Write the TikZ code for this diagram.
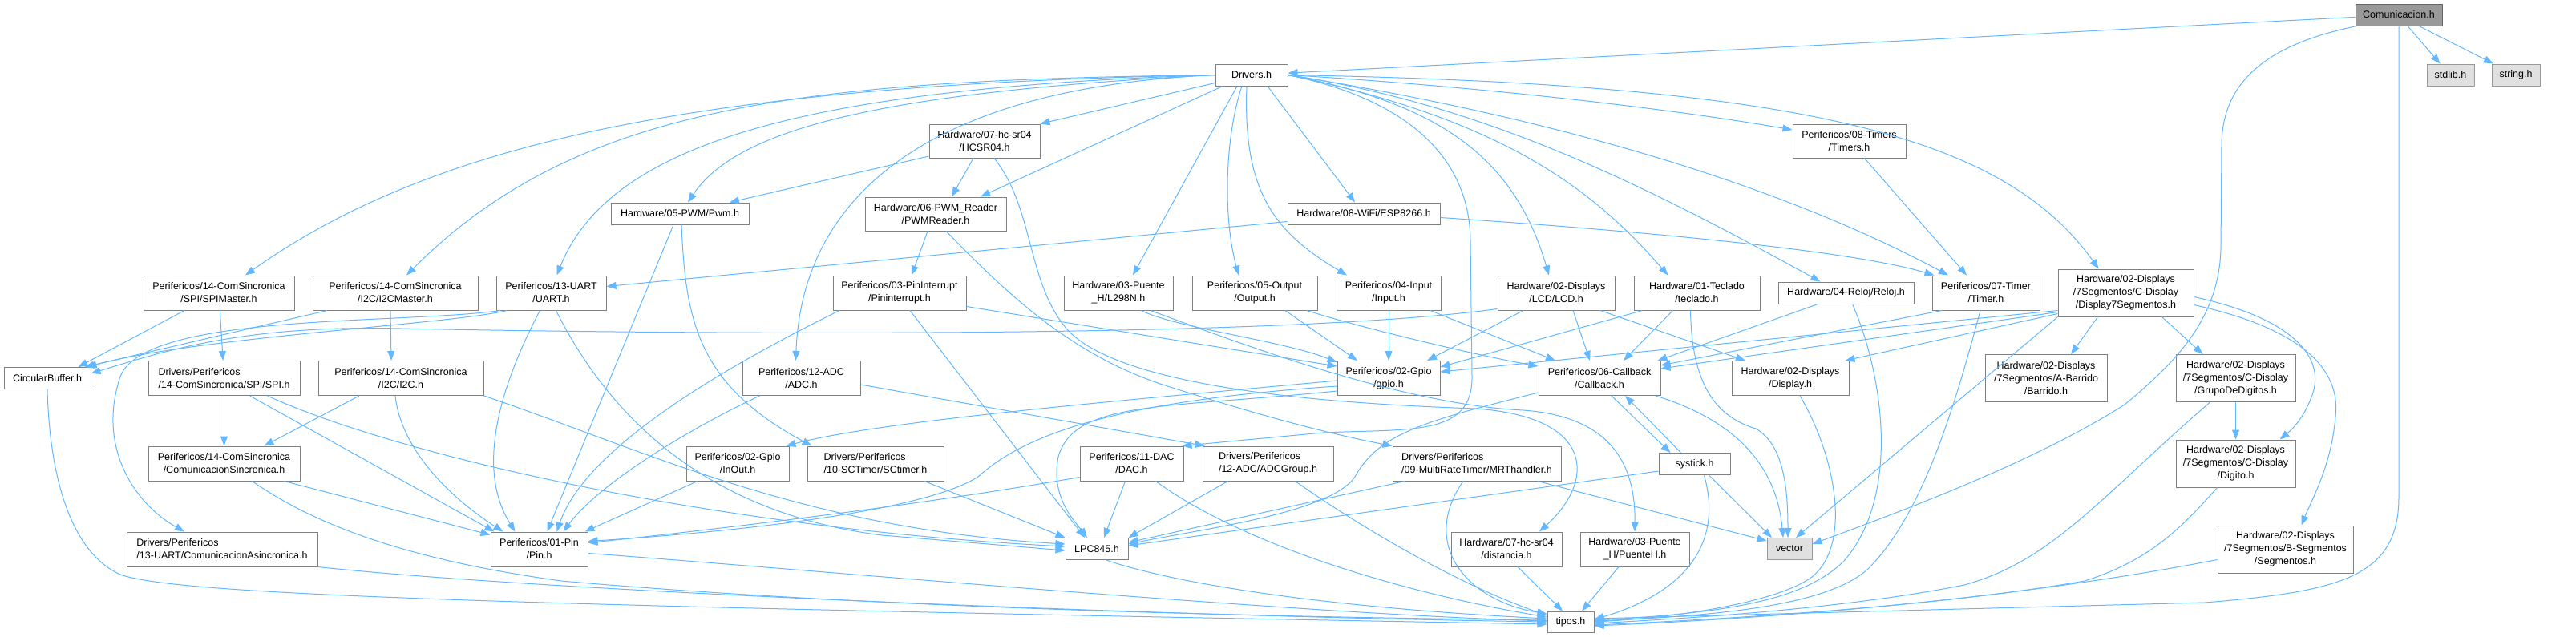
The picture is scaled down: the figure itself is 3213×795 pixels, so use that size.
\documentclass[tikz,border=0pt]{standalone}
\usepackage{fontspec}
\setmainfont{Liberation Sans}
\usetikzlibrary{arrows.meta}
\definecolor{edgec}{HTML}{63B8FF}
\definecolor{bordc}{HTML}{808080}
\definecolor{rootf}{HTML}{999999}
\definecolor{rootb}{HTML}{666666}
\definecolor{extf}{HTML}{E0E0E0}
\definecolor{extb}{HTML}{999999}
\tikzset{
  sz/.style 2 args={minimum width=#1pt,minimum height=#2pt},
  nd/.style={draw=bordc,fill=white,line width=1pt,inner sep=0pt,align=center,
    font=\fontsize{12.5}{16}\selectfont,text=black},
  ext/.style={nd,fill=extf,draw=extb},
  e/.style={draw=edgec,line width=1pt,-{Triangle[length=12pt,width=9pt]}}
}
\begin{document}
\begin{tikzpicture}[x=1pt,y=-1pt]
\fill[white] (0,0) rectangle (3213,795);
\useasboundingbox (0,0) rectangle (3213,795);
% nodes
\node[nd,sz={108}{27},fill=rootf,draw=rootb] (root) at (2992,18.5) {Comunicacion.h};
\node[ext,sz={59}{27}] (stdlib) at (3056.5,93.5) {stdlib.h};
\node[ext,sz={60}{27}] (string) at (3138,93.5) {string.h};
\node[nd,sz={90}{27}] (drivers) at (1561,93.5) {Drivers.h};
\node[nd,sz={138}{42}] (hcsr04) at (1228,176) {Hardware/07-hc-sr04\\/HCSR04.h};
\node[nd,sz={141}{42}] (timers) at (2306.5,176) {Perifericos/08-Timers\\/Timers.h};
\node[nd,sz={172}{27}] (pwm) at (848,266.5) {Hardware/05-PWM/Pwm.h};
\node[nd,sz={176}{42}] (pwmreader) at (1167,267) {Hardware/06-PWM\_Reader\\/PWMReader.h};
\node[nd,sz={190}{27}] (esp) at (1701,266.5) {Hardware/08-WiFi/ESP8266.h};
\node[nd,sz={188}{43}] (spimaster) at (273,365.5) {Perifericos/14-ComSincronica\\/SPI/SPIMaster.h};
\node[nd,sz={206}{43}] (i2cmaster) at (493,365.5) {Perifericos/14-ComSincronica\\/I2C/I2CMaster.h};
\node[nd,sz={137}{43}] (uart) at (687.5,365.5) {Perifericos/13-UART\\/UART.h};
\node[nd,sz={166}{43}] (pinint) at (1122,365.5) {Perifericos/03-PinInterrupt\\/Pininterrupt.h};
\node[nd,sz={136}{43}] (l298n) at (1395,365.5) {Hardware/03-Puente\\\_H/L298N.h};
\node[nd,sz={156}{43}] (output) at (1565,365.5) {Perifericos/05-Output\\/Output.h};
\node[nd,sz={130}{43}] (input) at (1732,365.5) {Perifericos/04-Input\\/Input.h};
\node[nd,sz={146}{43}] (lcd) at (1941,365.5) {Hardware/02-Displays\\/LCD/LCD.h};
\node[nd,sz={157}{43}] (teclado) at (2116.5,365.5) {Hardware/01-Teclado\\/teclado.h};
\node[nd,sz={169}{27}] (reloj) at (2302.5,365.5) {Hardware/04-Reloj/Reloj.h};
\node[nd,sz={134}{43}] (timer) at (2477,365.5) {Perifericos/07-Timer\\/Timer.h};
\node[nd,sz={169}{59}] (disp7) at (2651.5,365.5) {Hardware/02-Displays\\/7Segmentos/C-Display\\/Display7Segmentos.h};
\node[nd,sz={108}{27}] (circ) at (59,472) {CircularBuffer.h};
\node[nd,sz={189}{43},align=left] (spi) at (279.5,472) {Drivers/Perifericos\\/14-ComSincronica/SPI/SPI.h};
\node[nd,sz={206}{43}] (i2c) at (500,472) {Perifericos/14-ComSincronica\\/I2C/I2C.h};
\node[nd,sz={147}{43}] (adc) at (999.5,472) {Perifericos/12-ADC\\/ADC.h};
\node[nd,sz={128}{43}] (gpio) at (1732,472) {Perifericos/02-Gpio\\/gpio.h};
\node[nd,sz={152}{43}] (callback) at (1995,472) {Perifericos/06-Callback\\/Callback.h};
\node[nd,sz={146}{43}] (display) at (2233,472) {Hardware/02-Displays\\/Display.h};
\node[nd,sz={152}{59}] (barrido) at (2552,472) {Hardware/02-Displays\\/7Segmentos/A-Barrido\\/Barrido.h};
\node[nd,sz={149}{59}] (grupo) at (2788.5,472) {Hardware/02-Displays\\/7Segmentos/C-Display\\/GrupoDeDigitos.h};
\node[nd,sz={189}{43}] (comsinc) at (279.5,578.5) {Perifericos/14-ComSincronica\\/ComunicacionSincronica.h};
\node[nd,sz={128}{43}] (inout) at (920,578.5) {Perifericos/02-Gpio\\/InOut.h};
\node[nd,sz={170}{43},align=left] (sctimer) at (1092,578.5) {Drivers/Perifericos\\/10-SCTimer/SCtimer.h};
\node[nd,sz={129}{43}] (dac) at (1411.5,578.5) {Perifericos/11-DAC\\/DAC.h};
\node[nd,sz={163}{43},align=left] (adcgroup) at (1581.5,578.5) {Drivers/Perifericos\\/12-ADC/ADCGroup.h};
\node[nd,sz={210}{43},align=left] (mrt) at (1842,578.5) {Drivers/Perifericos\\/09-MultiRateTimer/MRThandler.h};
\node[nd,sz={89}{27}] (systick) at (2113.5,579) {systick.h};
\node[nd,sz={149}{59}] (digito) at (2788.5,578.5) {Hardware/02-Displays\\/7Segmentos/C-Display\\/Digito.h};
\node[nd,sz={238}{43},align=left] (comasinc) at (277,685.5) {Drivers/Perifericos\\/13-UART/ComunicacionAsincronica.h};
\node[nd,sz={121}{43}] (pin) at (672.5,685.5) {Perifericos/01-Pin\\/Pin.h};
\node[nd,sz={78}{27}] (lpc) at (1368,685) {LPC845.h};
\node[nd,sz={138}{43}] (distancia) at (1879,685.5) {Hardware/07-hc-sr04\\/distancia.h};
\node[nd,sz={136}{43}] (puenteh) at (2039,685.5) {Hardware/03-Puente\\\_H/PuenteH.h};
\node[ext,sz={56}{27}] (vector) at (2232,685) {vector};
\node[nd,sz={169}{59}] (segmentos) at (2850.5,685.5) {Hardware/02-Displays\\/7Segmentos/B-Segmentos\\/Segmentos.h};
\node[nd,sz={58}{26}] (tipos) at (1959,776) {tipos.h};

% root edges
\draw[e] (root) -- (drivers);
\draw[e] ([xshift=11pt]root.south) -- ([xshift=-13pt]stdlib.north);
\draw[e] ([xshift=25pt]root.south) -- ([xshift=-28pt]string.north);
\draw[e] ([xshift=2pt]root.south west) .. controls (2830,55) and (2772,100) .. (2771,180) -- (2770,310) .. controls (2768,400) and (2710,455) .. (2650,505) .. controls (2540,575) and (2380,635) .. ([yshift=6pt]vector.east);
\draw[e] (root.south) -- (2992,620) .. controls (2992,720) and (2920,738) .. (2750,752) -- ([yshift=4pt]tipos.east);

% drivers edges
\draw[e] (drivers.west) .. controls (900,105) and (550,170) .. ([xshift=33pt]spimaster.north);
\draw[e] (drivers.west) .. controls (1000,100) and (720,130) .. ([xshift=14pt]i2cmaster.north);
\draw[e] (drivers.west) .. controls (1000,110) and (760,180) .. ([xshift=7pt]uart.north);
\draw[e] (drivers.west) .. controls (1100,115) and (920,160) .. ([xshift=10pt]pwm.north);
\draw[e] (drivers.west) .. controls (1150,110) and (1000,250) .. ([xshift=-7pt]adc.north);
\draw[e] ([yshift=-10pt]drivers.west) -- (hcsr04.north east);
\draw[e] ([xshift=-36pt]drivers.south) -- ([xshift=56pt]pwmreader.north);
\draw[e] ([xshift=-18pt]drivers.south) -- ([xshift=18pt]l298n.north);
\draw[e] ([xshift=-12pt]drivers.south) .. controls (1528,170) and (1525,270) .. ([xshift=-20pt]output.north);
\draw[e] ([xshift=-6pt]drivers.south) .. controls (1550,240) and (1590,290) .. ([xshift=-52pt]input.north);
\draw[e] ([xshift=20pt]drivers.south) -- ([xshift=-11pt]esp.north);
\draw[e] (drivers.east) .. controls (1760,125) and (1833,200) .. (1834,300) -- (1836,470) .. controls (1837,545) and (1760,535) .. (1650,540) -- ([xshift=-2pt]dac.north east);
\draw[e] (drivers.east) .. controls (1800,130) and (1890,200) .. ([xshift=-9pt]lcd.north);
\draw[e] (drivers.east) .. controls (1880,150) and (1990,240) .. ([xshift=-36pt]teclado.north);
\draw[e] (drivers.east) .. controls (1850,130) and (2050,230) .. ([xshift=-32pt]reloj.north);
\draw[e] (drivers.east) .. controls (1900,140) and (2200,220) .. ([xshift=-47pt]timer.north);
\draw[e] (drivers.east) .. controls (1800,105) and (2050,130) .. ([yshift=14pt]timers.west);
\draw[e] (drivers.east) .. controls (2250,105) and (2500,170) .. ([xshift=-34pt]disp7.north);

% second level
\draw[e] ([xshift=-14pt]hcsr04.south) -- ([xshift=20pt]pwmreader.north);
\draw[e] ([yshift=-19pt]hcsr04.west) -- ([xshift=62pt]pwm.north);
\draw[e] ([xshift=12pt]hcsr04.south) .. controls (1290,260) and (1280,350) .. (1330,410) .. controls (1400,490) and (1700,505) .. (1840,510) .. controls (1990,520) and (1990,600) .. ([xshift=41pt]distancia.north);
\draw[e] ([xshift=19pt]timers.south) -- ([xshift=-24pt]timer.north);
\draw[e] ([yshift=-5pt]esp.east) .. controls (2000,285) and (2300,310) .. ([xshift=3pt]timer.north west);
\draw[e] ([yshift=-10pt]esp.west) -- ([yshift=8pt]uart.east);
\draw[e] ([xshift=-10pt]pwmreader.south) -- ([xshift=15pt]pinint.north);
\draw[e] ([xshift=13pt]pwmreader.south) .. controls (1250,360) and (1330,440) .. (1450,480) .. controls (1560,515) and (1650,540) .. (mrt.north west);
\draw[e] ([xshift=-8pt]pwm.south) -- ([xshift=10pt]pin.north);
\draw[e] ([xshift=2pt]pwm.south) .. controls (855,400) and (870,480) .. ([xshift=6pt]sctimer.north west);

% uart / spi / i2c
\draw[e] ([xshift=-14pt]uart.south) .. controls (630,470) and (590,580) .. ([xshift=-30pt]pin.north);
\draw[e] ([xshift=6pt]uart.south) .. controls (760,520) and (880,640) .. (1100,668) -- ([yshift=-2pt]lpc.west);
\draw[e] ([xshift=14pt]uart.south west) .. controls (560,405) and (250,420) .. ([xshift=-5pt]circ.north east);
\draw[e] ([xshift=6pt]uart.south west) .. controls (500,405) and (180,390) .. (150,470) .. controls (120,560) and (170,630) .. ([xshift=-47pt]comasinc.north);
\draw[e] ([xshift=-43pt]spimaster.south) -- ([xshift=-16pt]circ.north east);
\draw[e] (spimaster) -- (spi);
\draw[e] ([xshift=-85pt]i2cmaster.south) -- ([xshift=-8pt]circ.north east);
\draw[e] ([xshift=-6pt]i2cmaster.south) -- ([xshift=-12pt]i2c.north);
\draw[e] ([yshift=2pt]lcd.south west) .. controls (1600,422) and (900,418) .. (500,410) .. controls (300,405) and (200,440) .. ([yshift=6pt]circ.east);
\draw[e] (spi) -- (comsinc);
\draw[e] ([xshift=32pt]spi.south) -- ([xshift=5pt]pin.north west);
\draw[e] ([xshift=54pt]spi.south) .. controls (500,570) and (900,660) .. ([yshift=3pt]lpc.west);
\draw[e] ([xshift=-52pt]i2c.south) -- ([xshift=50pt]comsinc.north);
\draw[e] ([xshift=-7pt]i2c.south) .. controls (500,560) and (560,620) .. ([xshift=-45pt]pin.north);
\draw[e] (i2c.south east) .. controls (800,560) and (1000,660) .. ([yshift=6pt]lpc.west);
\draw[e] ([xshift=75pt]comsinc.south) -- ([yshift=-4pt]pin.north west);
\draw[e] ([xshift=35pt]comsinc.south) .. controls (400,660) and (520,700) .. (700,725) .. controls (1100,760) and (1600,770) .. ([yshift=2pt]tipos.west);
\draw[e] (comasinc.south east) .. controls (700,740) and (1500,770) .. (tipos.west);
\draw[e] (circ.south) .. controls (62,600) and (90,690) .. (150,717) .. controls (220,742) and (600,755) .. ([yshift=-3pt]tipos.west);
\draw[e] ([yshift=-5pt]pin.east) .. controls (1000,710) and (1600,765) .. ([yshift=1pt]tipos.west);
\draw[e] ([xshift=12pt]lpc.south) .. controls (1440,720) and (1600,755) .. ([yshift=4pt]tipos.west);

% middle
\draw[e] ([xshift=61pt]sctimer.south) -- (lpc.north west);
\draw[e] ([yshift=-8pt]adc.east) -- ([xshift=3pt]adcgroup.north west);
\draw[e] ([xshift=-52pt]adc.south) .. controls (870,530) and (750,600) .. ([xshift=30pt]pin.north);
\draw[e] ([xshift=-50pt]inout.south) -- ([xshift=57pt]pin.north);
\draw[e] ([xshift=-75pt]pinint.south) .. controls (900,460) and (730,560) .. ([xshift=22pt]pin.north);
\draw[e] ([xshift=13pt]pinint.south) -- ([xshift=-15pt]lpc.north);
\draw[e] ([yshift=-17pt]pinint.east) -- ([yshift=15pt]gpio.west);
\draw[e] ([xshift=-8pt]dac.south) -- ([xshift=9pt]lpc.north);
\draw[e] ([yshift=-17pt]dac.west) .. controls (1150,630) and (900,660) .. ([yshift=8pt]pin.east);
\draw[e] ([xshift=30pt]dac.south) .. controls (1550,680) and (1750,740) .. ([yshift=6pt]tipos.west);
\draw[e] ([xshift=-50pt]adcgroup.south) -- (lpc.north east);
\draw[e] ([xshift=34pt]adcgroup.south) .. controls (1700,660) and (1820,730) .. ([yshift=8pt]tipos.west);
\draw[e] ([xshift=-90pt]mrt.south) -- ([yshift=8pt]lpc.east);
\draw[e] ([xshift=-17pt]mrt.south) .. controls (1770,680) and (1830,750) .. ([yshift=10pt]tipos.west);
\draw[e] ([xshift=76pt]mrt.south) -- ([yshift=10pt]vector.west);
\draw[e] ([yshift=-3pt]gpio.west) .. controls (1400,500) and (1100,525) .. ([xshift=-4pt]inout.north east);
\draw[e] ([yshift=-10pt]gpio.west) .. controls (1400,500) and (1280,540) .. (1220,595) .. controls (1150,640) and (900,665) .. ([yshift=10pt]pin.east);
\draw[e] ([yshift=-16pt]gpio.west) .. controls (1450,510) and (1340,500) .. (1320,570) .. controls (1310,620) and (1340,650) .. ([xshift=-12pt]lpc.north);
\draw[e] ([xshift=28pt]l298n.south) .. controls (1470,410) and (1600,425) .. ([yshift=-2pt]gpio.north west);
\draw[e] ([xshift=40pt]l298n.south) .. controls (1550,430) and (1750,505) .. (1900,512) .. controls (2010,520) and (2040,580) .. (puenteh.north);
\draw[e] ([xshift=38pt]output.south) -- ([xshift=-39pt]gpio.north);
\draw[e] ([xshift=65pt]output.south) .. controls (1700,410) and (1850,445) .. ([yshift=15pt]callback.west);
\draw[e] (input) -- (gpio);
\draw[e] ([xshift=52pt]input.south) -- ([xshift=-55pt]callback.north);
\draw[e] ([xshift=-41pt]lcd.south) -- ([xshift=48pt]gpio.north);
\draw[e] ([xshift=21pt]lcd.south) -- ([xshift=-12pt]callback.north);
\draw[e] ([xshift=55pt]lcd.south) -- ([xshift=-56pt]display.north);
\draw[e] ([xshift=-68pt]teclado.south) -- ([yshift=14pt]gpio.east);
\draw[e] ([xshift=-30pt]teclado.south) -- ([xshift=30pt]callback.north);
\draw[e] ([xshift=-8pt]teclado.south) .. controls (2110,480) and (2140,520) .. (2190,535) .. controls (2225,555) and (2230,610) .. ([xshift=-2pt]vector.north);
\draw[e] ([xshift=-35pt]reloj.south) -- ([xshift=-4pt]callback.north east);
\draw[e] ([xshift=8pt]reloj.south) .. controls (2350,470) and (2370,620) .. (2300,700) .. controls (2250,750) and (2150,765) .. ([yshift=2pt]tipos.east);
\draw[e] ([xshift=-55pt]timer.south) -- ([yshift=16pt]callback.east);
\draw[e] ([xshift=-7pt]timer.south) .. controls (2440,500) and (2400,640) .. (2330,710) .. controls (2280,755) and (2150,768) .. ([yshift=1pt]tipos.east);
\draw[e] ([yshift=-22pt]disp7.west) -- ([yshift=8pt]gpio.east);
\draw[e] ([yshift=-24pt]disp7.west) -- ([yshift=12pt]callback.east);
\draw[e] ([yshift=-26pt]disp7.west) -- ([xshift=-5pt]display.north east);
\draw[e] ([xshift=-35pt]disp7.south) -- ([xshift=31pt]barrido.north);
\draw[e] ([xshift=45pt]disp7.south) -- ([xshift=-41pt]grupo.north);
\draw[e] ([yshift=-5pt]disp7.east) .. controls (2850,395) and (2900,440) .. (2885,490) .. controls (2875,520) and (2860,535) .. ([xshift=55pt]digito.north);
\draw[e] ([yshift=-15pt]disp7.east) .. controls (2870,410) and (2920,460) .. (2913,520) .. controls (2908,580) and (2885,620) .. ([xshift=20pt]segmentos.north);
\draw[e] (disp7.south west) -- ([xshift=8pt]vector.north);
\draw[e] (grupo) -- (digito);
\draw[e] ([xshift=-32pt]grupo.south) .. controls (2620,620) and (2560,700) .. (2450,730) .. controls (2300,760) and (2100,772) .. ([yshift=-2pt]tipos.east);
\draw[e] ([xshift=-23pt]digito.south) .. controls (2720,660) and (2680,700) .. (2600,725) .. controls (2400,760) and (2100,775) .. ([yshift=-4pt]tipos.east);
\draw[e] ([yshift=-13pt]segmentos.west) .. controls (2500,750) and (2200,772) .. ([yshift=-5pt]tipos.east);
\draw[e] ([xshift=12pt]display.south) .. controls (2290,570) and (2310,680) .. (2260,720) .. controls (2220,750) and (2100,770) .. (tipos.east);

% callback / systick
\draw[e] ([xshift=15pt]callback.south) -- ([xshift=-30pt]systick.north);
\draw[e] ([xshift=-17pt]systick.north) -- ([xshift=32pt]callback.south);
\draw[e] ([xshift=70pt]callback.south) .. controls (2150,520) and (2215,570) .. ([xshift=-8pt]vector.north);
\draw[e] ([yshift=-18pt]callback.west) .. controls (1780,525) and (1720,540) .. (1690,595) .. controls (1660,640) and (1500,660) .. ([yshift=6pt]lpc.east);
\draw[e] ([yshift=-9pt]systick.west) -- ([yshift=4pt]lpc.east);
\draw[e] ([xshift=18pt]systick.south) -- ([xshift=-22pt]vector.north);
\draw[e] ([xshift=12pt]systick.south) .. controls (2150,680) and (2100,740) .. ([yshift=3pt]tipos.east);
\draw[e] ([xshift=14pt]distancia.south) -- ([xshift=-10pt]tipos.north);
\draw[e] ([xshift=-20pt]puenteh.south) -- ([xshift=14pt]tipos.north);
\end{tikzpicture}
\end{document}
